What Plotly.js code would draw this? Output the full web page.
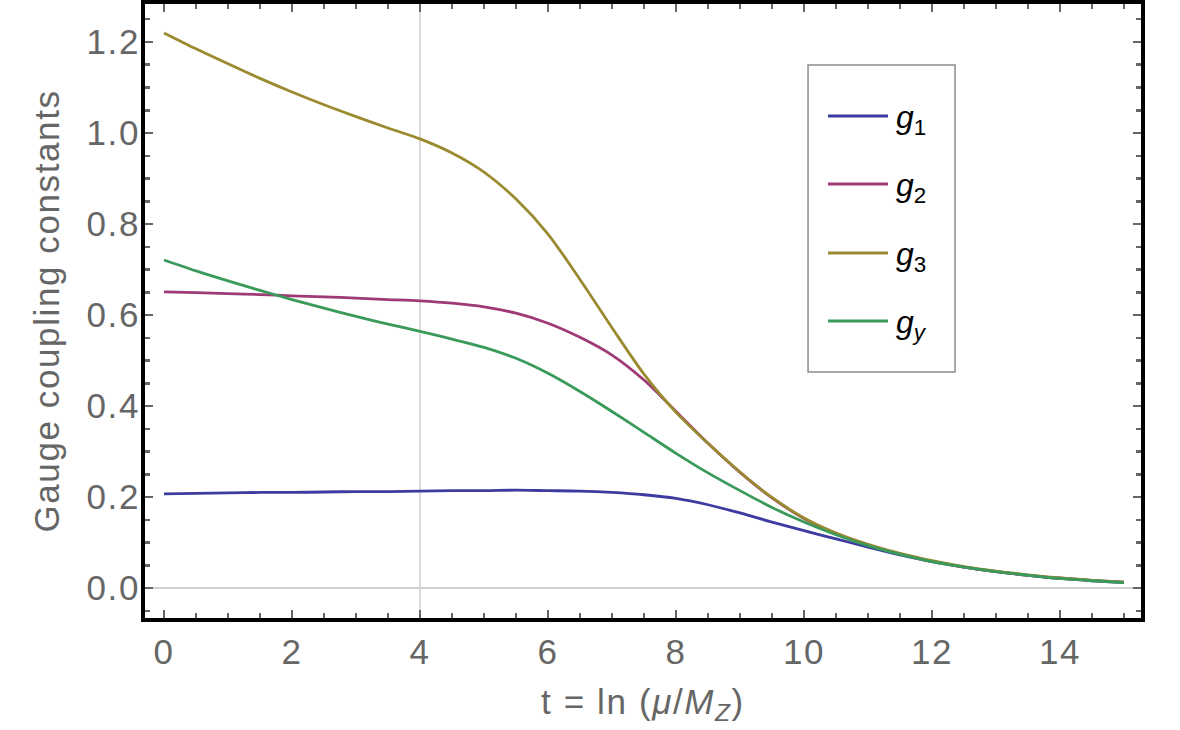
<!DOCTYPE html>
<html>
<head>
<meta charset="utf-8">
<script src="https://cdn.plot.ly/plotly-3.0.1.min.js"></script>
<style>
  html, body { margin: 0; padding: 0; background: #ffffff; }
  #chart { width: 1180px; height: 730px; }
  /* slightly open tracking for the axis typography */
  #chart .xtick text, #chart .ytick text, #chart .g-xtitle text, #chart .g-ytitle text { letter-spacing: 1.6px; }
</style>
</head>
<body>
<div id="chart"></div>
<script>
// Renormalisation scale t = ln(mu / M_Z), sampled every 0.5
const tValues = [0, 0.5, 1, 1.5, 2, 2.5, 3, 3.5, 4, 4.5, 5, 5.5, 6, 6.5, 7, 7.5,
                 8, 8.5, 9, 9.5, 10, 10.5, 11, 11.5, 12, 12.5, 13, 13.5, 14, 14.5, 15];

// Running gauge couplings
const g1 = [0.207, 0.208, 0.209, 0.210, 0.210, 0.211, 0.212, 0.212, 0.213, 0.214, 0.214, 0.215, 0.214, 0.213, 0.210,
            0.205, 0.197, 0.183, 0.165, 0.145, 0.126, 0.108, 0.090, 0.073, 0.058, 0.046, 0.036, 0.028, 0.021, 0.016, 0.012];
const g2 = [0.651, 0.649, 0.647, 0.645, 0.642, 0.640, 0.637, 0.634, 0.631, 0.626, 0.618, 0.604, 0.582, 0.551, 0.512,
            0.457, 0.388, 0.318, 0.254, 0.198, 0.153, 0.120, 0.095, 0.075, 0.059, 0.046, 0.036, 0.028, 0.022, 0.017, 0.013];
const g3 = [1.220, 1.185, 1.152, 1.120, 1.090, 1.062, 1.036, 1.011, 0.987, 0.956, 0.914, 0.855, 0.778, 0.678, 0.572,
            0.470, 0.386, 0.318, 0.255, 0.199, 0.154, 0.121, 0.096, 0.076, 0.060, 0.047, 0.037, 0.029, 0.022, 0.017, 0.013];
const gy = [0.721, 0.697, 0.675, 0.654, 0.634, 0.615, 0.597, 0.580, 0.564, 0.547, 0.529, 0.505, 0.472, 0.432, 0.388,
            0.342, 0.296, 0.253, 0.214, 0.177, 0.145, 0.117, 0.093, 0.074, 0.058, 0.046, 0.036, 0.028, 0.021, 0.016, 0.012];

const seriesNames = ['<i>g</i><sub>1</sub>', '<i>g</i><sub>2</sub>', '<i>g</i><sub>3</sub>', '<i>g</i><sub><i>y</i></sub>'];
const seriesColors = ['#3c3ca0', '#9e3a76', '#9a8a30', '#3a9a5a'];
const seriesData = [g1, g2, g3, gy];

const textGray = '#666666';
const fontFamily = '"Liberation Sans", Arial, sans-serif';

const traces = seriesData.map((ys, i) => ({
  type: 'scatter',
  mode: 'lines',
  x: tValues,
  y: ys,
  name: seriesNames[i],
  line: { color: seriesColors[i], width: 2.8, shape: 'spline', smoothing: 0.8 },
  showlegend: false,
  hoverinfo: 'skip'
}));

// Legend box drawn in paper coordinates
const legBox = { x0: 0.6657, x1: 0.8133, y0: 0.4007, y1: 0.9007 };
const legRows = [0.8176, 0.7068, 0.5945, 0.4837];
const shapes = [
  // reference line at t = 4
  { type: 'line', xref: 'x', yref: 'paper', x0: 4, x1: 4, y0: 0, y1: 1,
    line: { color: '#cfcfcf', width: 1.5 }, layer: 'below' },
  { type: 'rect', xref: 'paper', yref: 'paper', x0: legBox.x0, x1: legBox.x1, y0: legBox.y0, y1: legBox.y1,
    line: { color: '#8c8c8c', width: 1.5 }, fillcolor: '#ffffff' }
];
const annotations = [];
seriesNames.forEach((name, i) => {
  shapes.push({ type: 'line', xref: 'paper', yref: 'paper',
    x0: 0.6857, x1: 0.7460, y0: legRows[i], y1: legRows[i],
    line: { color: seriesColors[i], width: 2.8 } });
  annotations.push({ xref: 'paper', yref: 'paper', x: 0.7520, y: legRows[i] - 0.006,
    xanchor: 'left', yanchor: 'middle', showarrow: false, text: name,
    font: { family: fontFamily, size: 32, color: '#000000' } });
});

const layout = {
  width: 1180,
  height: 730,
  paper_bgcolor: '#ffffff',
  plot_bgcolor: '#ffffff',
  margin: { l: 145, r: 39, t: 4, b: 112 },
  font: { family: fontFamily, color: textGray, size: 35 },
  xaxis: {
    range: [-0.297, 15.266],
    tickmode: 'linear', tick0: 0, dtick: 2,
    ticks: 'inside', ticklen: 8, tickwidth: 2.5, tickcolor: textGray,
    minor: { tickmode: 'linear', tick0: 0, dtick: 0.5, ticks: 'inside', ticklen: 5, tickwidth: 2.5, tickcolor: textGray },
    showline: true, linecolor: '#000000', linewidth: 4, mirror: 'allticks',
    showgrid: false, zeroline: false,
    tickfont: { size: 35, color: textGray },
    title: { text: 't = ln (<i>μ</i>/<i>M</i><sub><i>Z</i></sub>)', font: { size: 35, color: textGray }, standoff: 20 }
  },
  yaxis: {
    range: [-0.0659, 1.2835],
    tickmode: 'linear', tick0: 0, dtick: 0.2, tickformat: '.1f',
    ticks: 'inside', ticklen: 8, tickwidth: 2.5, tickcolor: textGray,
    minor: { tickmode: 'linear', tick0: 0, dtick: 0.05, ticks: 'inside', ticklen: 5, tickwidth: 2.5, tickcolor: textGray },
    showline: true, linecolor: '#000000', linewidth: 4, mirror: 'allticks',
    showgrid: false, zeroline: true, zerolinecolor: '#cfcfcf', zerolinewidth: 1.5,
    tickfont: { size: 35, color: textGray },
    ticklabelstandoff: -6,
    title: { text: 'Gauge coupling constants', font: { size: 35, color: textGray }, standoff: 22 }
  },
  shapes: shapes,
  annotations: annotations,
  showlegend: false
};

Plotly.newPlot('chart', traces, layout, { staticPlot: true, displayModeBar: false });
</script>
</body>
</html>
